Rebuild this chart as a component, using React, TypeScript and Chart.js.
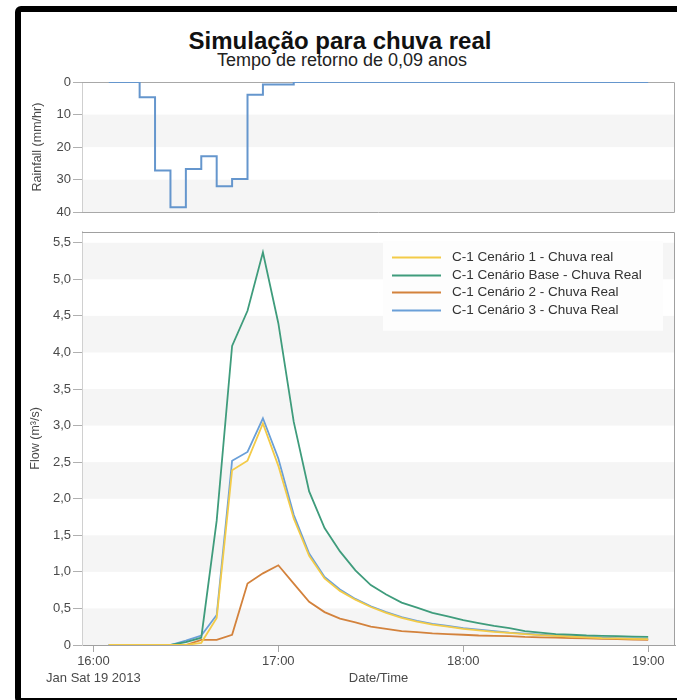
import { useEffect, useRef } from "react";
import { Chart, registerables } from "chart.js";

Chart.register(...registerables);

const FONT = "'Liberation Sans', Arial, sans-serif";

// minutes after 16:00 (Jan Sat 19 2013)
const timeMinutes = [
  5, 10, 15, 20, 25, 30, 35, 40, 45, 50, 55, 60,
  65, 70, 75, 80, 85, 90, 95, 100, 105, 110, 115, 120,
  125, 130, 135, 140, 145, 150, 155, 160, 165, 170, 175, 180,
];

// Rainfall (mm/hr), value holds for the 5 minutes after each time
const rainfall = [
  0, 0, 4.7, 27.2, 38.5, 26.7, 22.8, 32, 29.8, 3.9, 0.8, 0.8,
  0, 0, 0, 0, 0, 0, 0, 0, 0, 0, 0, 0,
  0, 0, 0, 0, 0, 0, 0, 0, 0, 0, 0, 0,
];

const flowCenario1 = [
  0, 0, 0, 0, 0, 0, 0.03, 0.37, 2.39, 2.52, 3.03, 2.45,
  1.73, 1.22, 0.91, 0.74, 0.62, 0.52, 0.44, 0.37, 0.32, 0.28, 0.25, 0.22,
  0.2, 0.18, 0.165, 0.15, 0.135, 0.125, 0.115, 0.105, 0.095, 0.09, 0.085, 0.08,
];
const flowCenarioBase = [
  0, 0, 0, 0, 0, 0.04, 0.1, 1.7, 4.09, 4.57, 5.37, 4.4,
  3.05, 2.1, 1.6, 1.28, 1.02, 0.82, 0.69, 0.58, 0.51, 0.44, 0.39, 0.34,
  0.3, 0.26, 0.23, 0.19, 0.17, 0.15, 0.14, 0.13, 0.125, 0.12, 0.115, 0.11,
];
const flowCenario2 = [
  0, 0, 0, 0, 0, 0, 0.07, 0.07, 0.14, 0.84, 0.98, 1.09,
  0.84, 0.59, 0.45, 0.36, 0.31, 0.25, 0.22, 0.19, 0.175, 0.16, 0.15, 0.14,
  0.13, 0.125, 0.12, 0.11, 0.105, 0.1, 0.095, 0.09, 0.085, 0.08, 0.075, 0.07,
];
const flowCenario3 = [
  0, 0, 0, 0, 0, 0.06, 0.13, 0.41, 2.52, 2.64, 3.1, 2.55,
  1.78, 1.25, 0.93, 0.76, 0.63, 0.53, 0.45, 0.38, 0.33, 0.29, 0.26, 0.23,
  0.21, 0.19, 0.17, 0.155, 0.14, 0.13, 0.12, 0.11, 0.1, 0.095, 0.09, 0.085,
];

const seriesLabels = [
  "C-1 Cenário 1 - Chuva real",
  "C-1 Cenário Base - Chuva Real",
  "C-1 Cenário 2 - Chuva Real",
  "C-1 Cenário 3 - Chuva Real",
];
const seriesColors = ["#f3cb48", "#3f9c7c", "#d3823c", "#6a9fd8"];
const seriesValues = [flowCenario1, flowCenarioBase, flowCenario2, flowCenario3];

const xTickValues = [0, 60, 120, 180];
const xTickLabels: (string | string[])[] = [["16:00", "Jan Sat 19 2013"], "17:00", "18:00", "19:00"];
const xMin = -3.7;
const xMax = 188.7;

const rainTicks = [0, 10, 20, 30, 40];
const flowTicks = [0, 0.5, 1, 1.5, 2, 2.5, 3, 3.5, 4, 4.5, 5, 5.5];
const flowMax = 5.65;

const toPoints = (vals: number[]) => timeMinutes.map((t, i) => ({ x: t, y: vals[i] }));

const bandPlugin = {
  id: "bands",
  beforeDraw(chart: any) {
    const { ctx, chartArea } = chart;
    const y = chart.scales.y;
    const pix = y.ticks.map((t: any) => y.getPixelForValue(t.value)).sort((a: number, b: number) => b - a);
    ctx.save();
    ctx.fillStyle = "#f5f5f5";
    for (let i = 0; i + 1 < pix.length; i += 2) {
      ctx.fillRect(chartArea.left, pix[i + 1], chartArea.right - chartArea.left, pix[i] - pix[i + 1]);
    }
    ctx.restore();
  },
};

const areaBorderPlugin = {
  id: "areaBorder",
  beforeDatasetsDraw(chart: any, _args: any, opts: any) {
    const { ctx, chartArea } = chart;
    const l = Math.round(chartArea.left);
    const t = Math.round(chartArea.top) + 0.5;
    const r = Math.round(chartArea.right) - 0.5;
    const b = Math.round(chartArea.bottom) + 0.5;
    ctx.save();
    ctx.strokeStyle = opts.color || "#aaa";
    ctx.lineWidth = 1;
    ctx.beginPath();
    ctx.moveTo(l, t);
    ctx.lineTo(r, t);
    ctx.lineTo(r, b);
    if (opts.bottom) ctx.lineTo(l, b);
    ctx.stroke();
    ctx.restore();
  },
};

const insideLegendPlugin = {
  id: "insideLegend",
  afterDraw(chart: any, _args: any, opts: any) {
    if (!opts || !opts.display) return;
    const { ctx, chartArea } = chart;
    const bx = chartArea.right - opts.rightGap - opts.width;
    const by = chartArea.top + opts.topGap;
    ctx.save();
    ctx.fillStyle = opts.background;
    ctx.fillRect(bx, by, opts.width, opts.height);
    ctx.font = `${opts.fontSize}px ${FONT}`;
    ctx.textBaseline = "middle";
    ctx.textAlign = "left";
    chart.data.datasets.forEach((ds: any, i: number) => {
      const y = Math.round(by + opts.firstRow + i * opts.rowGap) + 0.5;
      ctx.strokeStyle = ds.borderColor;
      ctx.lineWidth = 2;
      ctx.beginPath();
      ctx.moveTo(bx + opts.lineStart, y);
      ctx.lineTo(bx + opts.lineEnd, y);
      ctx.stroke();
      ctx.fillStyle = opts.color;
      ctx.fillText(ds.label, bx + opts.textStart, y);
    });
    ctx.restore();
  },
};

const tickColor = "#4a4a4a";

export default function App() {
  const rainRef = useRef<HTMLCanvasElement>(null);
  const flowRef = useRef<HTMLCanvasElement>(null);

  useEffect(() => {
    Chart.defaults.font.family = FONT;
    Chart.defaults.color = tickColor;

    const rainChart = new Chart(rainRef.current as HTMLCanvasElement, {
      type: "line",
      data: {
        datasets: [
          {
            label: "Rainfall",
            data: toPoints(rainfall),
            borderColor: "#6596cd",
            borderWidth: 2,
            stepped: "before",
            pointRadius: 0,
            fill: false,
          } as any,
        ],
      },
      options: {
        animation: false,
        responsive: false,
        maintainAspectRatio: false,
        layout: { padding: { top: 82, right: 2, bottom: 8.5, left: 0 } },
        plugins: {
          legend: { display: false },
          tooltip: { enabled: false },
          areaBorder: { color: "#a8a8a8", bottom: true },
        } as any,
        scales: {
          x: { type: "linear", min: xMin, max: xMax, display: false },
          y: {
            type: "linear",
            reverse: true,
            min: 0,
            max: 40,
            afterFit: (s: any) => { s.width = 82; },
            afterBuildTicks: (s: any) => { s.ticks = rainTicks.map((v) => ({ value: v })); },
            ticks: { color: tickColor, font: { size: 13 }, padding: 2, callback: (v: any) => String(v) },
            grid: { drawOnChartArea: false, tickLength: 9, color: "#b0b0b0" },
            border: { color: "#cfcfcf" },
            title: {
              display: true,
              text: "Rainfall (mm/hr)",
              color: tickColor,
              font: { size: 12.5 },
              padding: { top: 30.4, bottom: 0 },
            },
          },
        },
      },
      plugins: [bandPlugin, areaBorderPlugin],
    });

    const flowChart = new Chart(flowRef.current as HTMLCanvasElement, {
      type: "line",
      data: {
        datasets: seriesLabels.map((label, i) => ({
          label,
          data: toPoints(seriesValues[i]),
          borderColor: seriesColors[i],
          backgroundColor: seriesColors[i],
          borderWidth: 1.8,
          pointRadius: 0,
          tension: 0,
          fill: false,
        })),
      },
      options: {
        animation: false,
        responsive: false,
        maintainAspectRatio: false,
        layout: { padding: { top: 9, right: 2, bottom: 0, left: 0 } },
        plugins: {
          legend: { display: false },
          tooltip: { enabled: false },
          areaBorder: { color: "#a0a0a0", bottom: false },
          insideLegend: {
            display: true,
            rightGap: 12,
            topGap: 9,
            width: 280,
            height: 90,
            background: "#fdfdfd",
            firstRow: 16,
            rowGap: 17.7,
            lineStart: 9,
            lineEnd: 58,
            textStart: 69,
            fontSize: 13.5,
            color: "#333",
          },
        } as any,
        scales: {
          x: {
            type: "linear",
            min: xMin,
            max: xMax,
            afterFit: (s: any) => { s.height = 55; },
            afterBuildTicks: (s: any) => { s.ticks = xTickValues.map((v) => ({ value: v })); },
            ticks: {
              color: tickColor,
              font: { size: 13, lineHeight: 1.3 },
              padding: 1,
              maxRotation: 0,
              autoSkip: false,
              callback: (v: any) => xTickLabels[xTickValues.indexOf(v)],
            },
            grid: { drawOnChartArea: false, tickLength: 7, color: "#a8a8a8" },
            border: { color: "#a0a0a0" },
            title: {
              display: true,
              text: "Date/Time",
              color: tickColor,
              font: { size: 13 },
              padding: { top: 0, bottom: 14.2 },
            },
          },
          y: {
            type: "linear",
            min: 0,
            max: flowMax,
            afterFit: (s: any) => { s.width = 82; },
            afterBuildTicks: (s: any) => { s.ticks = flowTicks.map((v) => ({ value: v })); },
            ticks: {
              color: tickColor,
              font: { size: 13 },
              padding: 2,
              callback: (v: any) => (v === 0 ? "0" : Number(v).toFixed(1).replace(".", ",")),
            },
            grid: { drawOnChartArea: false, tickLength: 9, color: "#b0b0b0" },
            border: { color: "#d0d0d0" },
            title: {
              display: true,
              text: "Flow (m³/s)",
              color: tickColor,
              font: { size: 12.5 },
              padding: { top: 28.4, bottom: 0 },
            },
          },
        },
      },
      plugins: [bandPlugin, areaBorderPlugin, insideLegendPlugin],
    });

    return () => {
      rainChart.destroy();
      flowChart.destroy();
    };
  }, []);

  return (
    <div
      style={{
        position: "fixed",
        left: 0,
        top: 0,
        width: 677,
        height: 700,
        overflow: "hidden",
        background: "#fff",
        fontFamily: FONT,
      }}
    >
      <div
        style={{
          position: "absolute",
          left: 0,
          top: 28.7,
          width: 680,
          textAlign: "center",
          fontSize: 24,
          lineHeight: "24px",
          fontWeight: "bold",
          color: "#111",
          whiteSpace: "nowrap",
        }}
      >
        Simulação para chuva real
      </div>
      <div
        style={{
          position: "absolute",
          left: 0,
          top: 51.3,
          width: 684,
          textAlign: "center",
          fontSize: 18,
          lineHeight: "18px",
          color: "#222",
          whiteSpace: "nowrap",
        }}
      >
        Tempo de retorno de 0,09 anos
      </div>
      <canvas
        ref={rainRef}
        width={677}
        height={222}
        style={{ position: "absolute", left: 0, top: 0, width: 677, height: 222 }}
      />
      <canvas
        ref={flowRef}
        width={677}
        height={478}
        style={{ position: "absolute", left: 0, top: 222, width: 677, height: 478 }}
      />
      <div
        style={{
          position: "absolute",
          left: 15,
          top: 6,
          width: 700,
          height: 698,
          boxSizing: "border-box",
          border: "6px solid #000",
          borderRadius: 6,
          pointerEvents: "none",
        }}
      />
    </div>
  );
}
